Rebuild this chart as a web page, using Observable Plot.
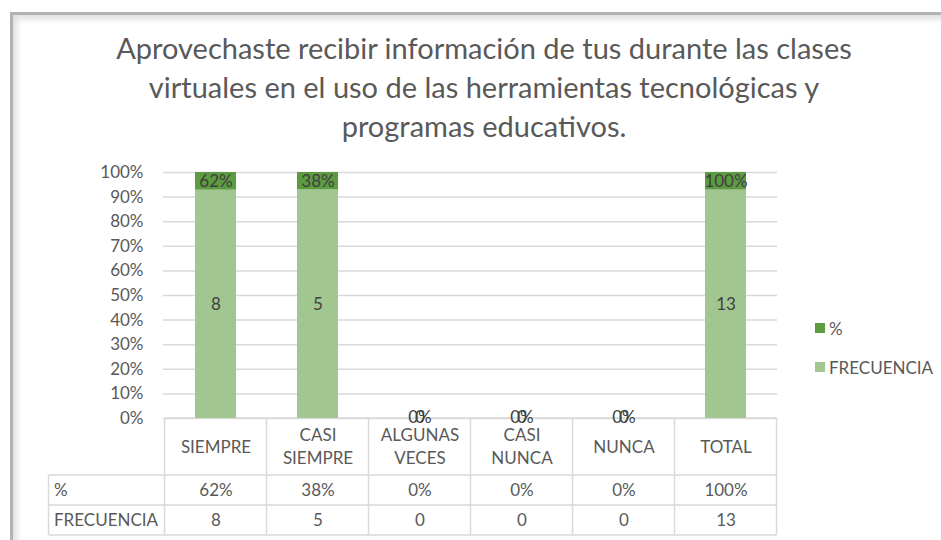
<!DOCTYPE html>
<html><head><meta charset="utf-8">
<script src="https://cdn.jsdelivr.net/npm/d3@7"></script>
<script src="https://cdn.jsdelivr.net/npm/@observablehq/plot@0.6"></script>
<style>
body{margin:0;background:#fff;width:941px;height:540px;overflow:hidden;position:relative;font-family:Lato,"Open Sans",sans-serif;}
#frame{position:absolute;left:10px;top:12px;width:960px;height:560px;border-top:3px solid #b3b3b3;border-left:3px solid #b3b3b3;box-shadow:inset 4px 4px 6px rgba(0,0,0,0.13);}
#title{position:absolute;left:0;width:968px;top:28px;text-align:center;font-size:29px;line-height:39px;color:#595959;}
#chart{position:absolute;left:0;top:150px;}
#legend{position:absolute;left:815px;top:318px;font-size:17px;color:#595959;}
.item{display:flex;align-items:center;height:20px;margin-bottom:19px;}
.sw{width:10px;height:10px;margin-right:4px;}
</style>
</head><body>
<div id="frame"></div>
<div id="title">Aprovechaste recibir información de tus durante las clases<br>virtuales en el uso de las herramientas tecnológicas y<br>programas educativos.</div>
<div id="chart"></div>
<div id="legend"></div>
<script>
const categories = ["SIEMPRE","CASI SIEMPRE","ALGUNAS VECES","CASI NUNCA","NUNCA","TOTAL"];
const headerLabels = ["SIEMPRE","CASI\nSIEMPRE","ALGUNAS\nVECES","CASI\nNUNCA","NUNCA","TOTAL"];
const frecuencia = [8,5,0,0,0,13];
const porcentaje = [0.62,0.38,0,0,0,1.00];
const seriesNames = ["FRECUENCIA","%"];
const legendOrder = ["%","FRECUENCIA"];
const seriesColors = ["#a2c690","#5c9b40"];
const yTicks = [0,0.1,0.2,0.3,0.4,0.5,0.6,0.7,0.8,0.9,1.0];

const pct = d3.format(".0%");
const rows = [];
categories.forEach((c,i)=>{
  rows.push({cat:c, series:"FRECUENCIA", value:frecuencia[i], label:String(frecuencia[i])});
  rows.push({cat:c, series:"%", value:porcentaje[i], label:pct(porcentaje[i])});
});
const tableRows = [];
categories.forEach((c,i)=>{
  tableRows.push({cat:c, row:"%", label:pct(porcentaje[i])});
  tableRows.push({cat:c, row:"FRECUENCIA", label:String(frecuencia[i])});
});
const headers = categories.map((c,i)=>({cat:c, label:headerLabels[i]}));

const FS = 17;
const W = 941, H = 390;
const plot = Plot.plot({
  width: W, height: H,
  marginTop: 22, marginBottom: 122, marginLeft: 163, marginRight: 164,
  style: {fontSize:FS+"px", fontFamily:"Lato, 'Open Sans', sans-serif", color:"#595959", background:"transparent", overflow:"visible"},
  x: {domain: categories, axis: null, paddingInner: 0.6, paddingOuter: 0.3},
  y: {domain: [0,1], axis: null},
  color: {domain: seriesNames, range: seriesColors},
  marks: [
    Plot.gridY(yTicks, {stroke:"#d9d9d9", strokeOpacity:1, strokeWidth:1.5}),
    Plot.axisY(yTicks, {tickFormat: pct, tickSize: 0, tickPadding: 20, fill:"#595959", fontSize:FS, label:null}),
    Plot.barY(rows, {x:"cat", y:"value", fill:"series", offset:"normalize"}),
    Plot.text(rows.filter(d=>d.value>0), Plot.stackY({x:"cat", y:"value", z:"series", text:"label", offset:"normalize", fill:"#404040", fontSize:FS})),
    Plot.text(rows.filter(d=>d.value===0), {x:"cat", text:"label", frameAnchor:"bottom", lineAnchor:"middle", dy:-1, fill:"#404040", fontSize:FS}),
    Plot.text(headers, {x:"cat", text:"label", frameAnchor:"bottom", lineAnchor:"middle", dy:27, lineHeight:1.35, fill:"#595959", fontSize:FS}),
    Plot.text(tableRows.filter(d=>d.row==="%"), {x:"cat", text:"label", frameAnchor:"bottom", lineAnchor:"middle", dy:72, fill:"#595959", fontSize:FS}),
    Plot.text(tableRows.filter(d=>d.row==="FRECUENCIA"), {x:"cat", text:"label", frameAnchor:"bottom", lineAnchor:"middle", dy:102, fill:"#595959", fontSize:FS}),
    Plot.text(["%","FRECUENCIA"], {text:d=>d, frameAnchor:"bottom-left", lineAnchor:"middle", textAnchor:"start", fill:"#595959", fontSize:FS})
  ]
});
document.getElementById("chart").appendChild(plot);

const xs = plot.scale("x"), ys = plot.scale("y");
const gap = xs.step - xs.bandwidth;
const lefts = categories.map(c => xs.apply(c) - gap/2);
const tableLeft = lefts[0], tableRight = lefts[lefts.length-1] + xs.step;
const y0 = ys.apply(0);
const rowH = [57, 30, 30];
const yA = y0 + rowH[0], yB = yA + rowH[1], yC = yB + rowH[2];
const rowTitleLeft = tableLeft - 116;
const svg = d3.select(plot);
const g = svg.insert("g", ":first-child").attr("stroke","#d9d9d9").attr("stroke-width",1.5).attr("fill","none");
g.append("line").attr("x1",tableLeft).attr("x2",tableRight).attr("y1",y0).attr("y2",y0);
[yA,yB,yC].forEach(y=>g.append("line").attr("x1",rowTitleLeft).attr("x2",tableRight).attr("y1",y).attr("y2",y));
lefts.concat([tableRight]).forEach(x=>g.append("line").attr("x1",x).attr("x2",x).attr("y1",y0).attr("y2",yC));
g.append("line").attr("x1",rowTitleLeft).attr("x2",rowTitleLeft).attr("y1",yA).attr("y2",yC);

// place row titles in the table's first column
svg.selectAll("text").filter(function(){return this.textContent==="%"||this.textContent==="FRECUENCIA";}).each(function(){
  const t = d3.select(this);
  const isPct = this.textContent==="%";
  t.attr("transform", null).attr("x", rowTitleLeft+5).attr("y", isPct ? (yA+yB)/2 : (yB+yC)/2).attr("dy","0.32em");
});

// legend
const leg = d3.select("#legend");
legendOrder.forEach(s=>{
  const it = leg.append("div").attr("class","item");
  it.append("div").attr("class","sw").style("background", seriesColors[seriesNames.indexOf(s)]);
  it.append("span").text(s);
});
</script>
</body></html>
